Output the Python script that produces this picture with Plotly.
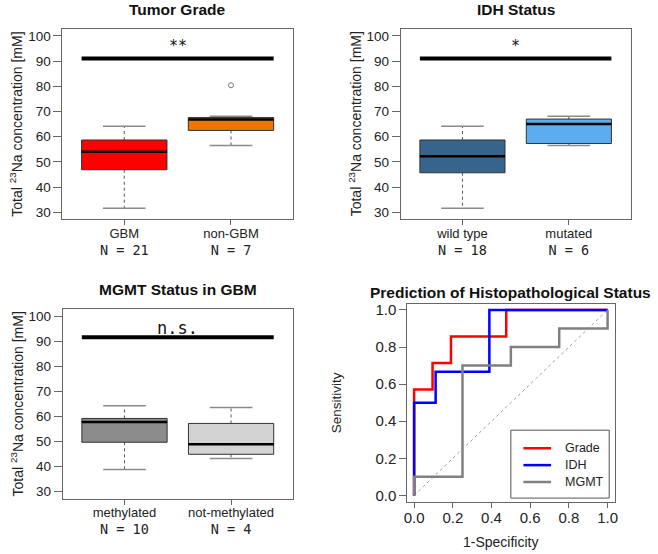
import plotly.graph_objects as go

# ---------------- data ----------------
grade_groups = ["GBM", "non-GBM"]
grade_n = [21, 7]
grade_low = [31.6, 56.5]
grade_q1 = [46.9, 62.5]
grade_med = [54.0, 66.8]
grade_q3 = [58.7, 67.6]
grade_high = [64.2, 68.1]
grade_out_x = [2]
grade_out_y = [80.4]
grade_colors = ["#FF0000", "#EE7600"]

idh_groups = ["wild type", "mutated"]
idh_n = [18, 6]
idh_low = [31.6, 56.5]
idh_q1 = [45.7, 57.3]
idh_med = [52.3, 65.0]
idh_q3 = [58.7, 67.0]
idh_high = [64.2, 68.1]
idh_colors = ["#36648B", "#5CACEE"]

mgmt_groups = ["methylated", "not-methylated"]
mgmt_n = [10, 4]
mgmt_low = [38.8, 43.2]
mgmt_q1 = [49.7, 44.9]
mgmt_med = [57.8, 48.9]
mgmt_q3 = [59.2, 57.2]
mgmt_high = [64.3, 63.6]
mgmt_colors = ["#8C8C8C", "#D3D3D3"]

sig_labels = ["**", "*", "n.s."]
sig_levels = [91.0, 91.0, 91.6]
sig_text_y = [96.0, 96.0, 95.2]

roc_names = ["Grade", "IDH", "MGMT"]
roc_colors = ["#FF0000", "#0000FF", "#808080"]
roc_fpr = [
    [0, 0, 2/21, 2/21, 4/21, 4/21, 10/21, 10/21, 1],
    [0, 0, 2/18, 2/18, 7/18, 7/18, 1],
    [0, 0, 0.25, 0.25, 0.5, 0.5, 0.75, 0.75, 1, 1],
]
roc_tpr = [
    [0, 4/7, 4/7, 5/7, 5/7, 6/7, 6/7, 1, 1],
    [0, 3/6, 3/6, 4/6, 4/6, 1, 1],
    [0, 0.1, 0.1, 0.7, 0.7, 0.8, 0.8, 0.9, 0.9, 1],
]

W, H = 658, 554
SANS = "Liberation Sans, Arial, sans-serif"
MONO = "DejaVu Sans Mono, monospace"

def px_x(p):
    return p / W

def px_y(p):
    return 1 - p / H

fig = go.Figure()

panels = [
    dict(ax="", groups=grade_groups, n=grade_n, low=grade_low, q1=grade_q1, med=grade_med,
         q3=grade_q3, high=grade_high, colors=grade_colors,
         dom_x=(59, 292), dom_y=(27, 219), title="Tumor Grade", ytitle_x=12.7,
         out_x=grade_out_x, out_y=grade_out_y),
    dict(ax="2", groups=idh_groups, n=idh_n, low=idh_low, q1=idh_q1, med=idh_med,
         q3=idh_q3, high=idh_high, colors=idh_colors,
         dom_x=(401, 633.3), dom_y=(27, 219), title="IDH Status", ytitle_x=355,
         out_x=[], out_y=[]),
    dict(ax="3", groups=mgmt_groups, n=mgmt_n, low=mgmt_low, q1=mgmt_q1, med=mgmt_med,
         q3=mgmt_q3, high=mgmt_high, colors=mgmt_colors,
         dom_x=(59.3, 292), dom_y=(309.3, 500.3), title="MGMT Status in GBM", ytitle_x=12.7,
         out_x=[], out_y=[]),
]

annotations = []
shapes = []
layout = {}
BW = 0.4   # half box width
CW = 0.2   # half cap width

for k, p in enumerate(panels):
    xa = "x" + p["ax"]
    ya = "y" + p["ax"]
    for i in range(len(p["groups"])):
        c = i + 1
        fig.add_trace(go.Scatter(x=[c, c, None, c, c], y=[p["q3"][i], p["high"][i], None, p["q1"][i], p["low"][i]],
                                 mode="lines", line=dict(color="#555555", width=1, dash="3px,3px"),
                                 xaxis=xa, yaxis=ya, showlegend=False, hoverinfo="skip"))
        fig.add_trace(go.Scatter(x=[c - CW, c + CW, None, c - CW, c + CW],
                                 y=[p["high"][i], p["high"][i], None, p["low"][i], p["low"][i]],
                                 mode="lines", line=dict(color="#8a8a8a", width=1.5),
                                 xaxis=xa, yaxis=ya, showlegend=False, hoverinfo="skip"))
        fig.add_trace(go.Scatter(x=[c - BW, c + BW, c + BW, c - BW, c - BW],
                                 y=[p["q1"][i], p["q1"][i], p["q3"][i], p["q3"][i], p["q1"][i]],
                                 mode="lines", fill="toself", fillcolor=p["colors"][i],
                                 line=dict(color="#333333", width=1),
                                 xaxis=xa, yaxis=ya, showlegend=False, hoverinfo="skip"))
        fig.add_trace(go.Scatter(x=[c - BW, c + BW], y=[p["med"][i], p["med"][i]],
                                 mode="lines", line=dict(color="#000000", width=2.5),
                                 xaxis=xa, yaxis=ya, showlegend=False, hoverinfo="skip"))
    if p["out_x"]:
        fig.add_trace(go.Scatter(x=p["out_x"], y=p["out_y"], mode="markers",
                                 marker=dict(symbol="circle-open", size=5, color="#777777", line=dict(width=1)),
                                 xaxis=xa, yaxis=ya, showlegend=False, hoverinfo="skip"))
    fig.add_trace(go.Scatter(x=[0.6, 2.4], y=[sig_levels[k], sig_levels[k]], mode="lines",
                             line=dict(color="#000000", width=4),
                             xaxis=xa, yaxis=ya, showlegend=False, hoverinfo="skip"))
    annotations.append(dict(x=1.5, y=sig_text_y[k], xref=xa, yref=ya, text=sig_labels[k],
                            showarrow=False, font=dict(family=MONO, size=17 if k == 2 else 15, color="#111")))

    ticktext = [f"{g}<br><span style='font-family:DejaVu Sans Mono;font-size:13.5px'>N = {n}</span>"
                for g, n in zip(p["groups"], p["n"])]
    layout["xaxis" + p["ax"]] = dict(
        domain=[px_x(p["dom_x"][0]), px_x(p["dom_x"][1])], range=[0.42, 2.58],
        tickvals=[1, 2], ticktext=ticktext, ticks="outside", ticklen=5, tickcolor="#666",
        showline=True, linecolor="#666", linewidth=1, mirror=True, showgrid=False, zeroline=False,
        anchor=ya, tickfont=dict(family=SANS, size=13, color="#222"), ticklabelstandoff=-3,
    )
    layout["yaxis" + p["ax"]] = dict(
        domain=[px_y(p["dom_y"][1]), px_y(p["dom_y"][0])], range=[27.2, 102.8],
        tickvals=[30, 40, 50, 60, 70, 80, 90, 100], ticks="outside", ticklen=8, tickcolor="#666",
        showline=True, linecolor="#666", linewidth=1, mirror=True, showgrid=False, zeroline=False,
        anchor=xa, tickfont=dict(family=SANS, size=13.5, color="#222"),
    )
    cx = (p["dom_x"][0] + p["dom_x"][1]) / 2
    ty = 7.5 if k < 2 else 289.5
    annotations.append(dict(x=px_x(cx), y=px_y(ty), xref="paper", yref="paper", text="<b>" + p["title"] + "</b>",
                            showarrow=False, font=dict(family=SANS, size=15.5, color="#111"),
                            xanchor="center", yanchor="middle"))
    cy = (p["dom_y"][0] + p["dom_y"][1]) / 2
    annotations.append(dict(x=px_x(p["ytitle_x"]), y=px_y(cy), xref="paper", yref="paper",
                            text="Total <sup>23</sup>Na concentration [mM]", textangle=-90,
                            showarrow=False, font=dict(family=SANS, size=14, color="#222"),
                            xanchor="center", yanchor="middle"))

# ---------------- ROC panel ----------------
fig.add_trace(go.Scatter(x=[0, 1], y=[0, 1], mode="lines", line=dict(color="#888888", width=0.8, dash="3px,3px"),
                         xaxis="x4", yaxis="y4", showlegend=False, hoverinfo="skip"))
for name, col, fx, ty in zip(roc_names, roc_colors, roc_fpr, roc_tpr):
    fig.add_trace(go.Scatter(x=fx, y=ty, mode="lines", name=name, line=dict(color=col, width=2.5),
                             xaxis="x4", yaxis="y4", showlegend=False))

# legend box (drawn in paper space)
LEG_L, LEG_R, LEG_T, LEG_B = 512.3, 611.7, 431.3, 499.7
shapes.append(dict(type="rect", xref="paper", yref="paper", x0=px_x(LEG_L), x1=px_x(LEG_R),
                   y0=px_y(LEG_B), y1=px_y(LEG_T), line=dict(color="#555", width=1), fillcolor="white",
                   layer="above"))
leg_rows = [449.5, 466.5, 483.5]
for name, col, ry in zip(roc_names, roc_colors, leg_rows):
    shapes.append(dict(type="line", xref="paper", yref="paper", x0=px_x(525), x1=px_x(553),
                       y0=px_y(ry), y1=px_y(ry), line=dict(color=col, width=2.5), layer="above"))
    annotations.append(dict(x=px_x(565), y=px_y(ry), xref="paper", yref="paper", text=name,
                            showarrow=False, xanchor="left", yanchor="middle",
                            font=dict(family=SANS, size=12.5, color="#222")))

roc_ticks = [0.0, 0.2, 0.4, 0.6, 0.8, 1.0]
roc_ticktext = ["0.0", "0.2", "0.4", "0.6", "0.8", "1.0"]
layout["xaxis4"] = dict(domain=[px_x(407.7), px_x(617.3)], range=[-0.035, 1.037],
                        tickvals=roc_ticks, ticktext=roc_ticktext, ticks="outside", ticklen=5, tickcolor="#666",
                        showline=True, linecolor="#666", linewidth=1, mirror=True, showgrid=False, zeroline=False,
                        anchor="y4", tickfont=dict(family=SANS, size=15, color="#222"), ticklabelstandoff=-3)
layout["yaxis4"] = dict(domain=[px_y(503.7), px_y(303.7)], range=[-0.036, 1.035],
                        tickvals=roc_ticks, ticktext=roc_ticktext, ticks="outside", ticklen=7, tickcolor="#666",
                        showline=True, linecolor="#666", linewidth=1, mirror=True, showgrid=False, zeroline=False,
                        anchor="x4", tickfont=dict(family=SANS, size=15, color="#222"))
annotations.append(dict(x=px_x(511.7), y=px_y(292.7), xref="paper", yref="paper",
                        text="<b>Prediction of Histopathological Status</b>", showarrow=False,
                        font=dict(family=SANS, size=15.5, color="#111"), xanchor="center", yanchor="middle"))
annotations.append(dict(x=px_x(502), y=px_y(543.5), xref="paper", yref="paper", text="1-Specificity",
                        showarrow=False, font=dict(family=SANS, size=14, color="#222"),
                        xanchor="center", yanchor="middle"))
annotations.append(dict(x=px_x(336), y=px_y(403.7), xref="paper", yref="paper", text="Sensitivity",
                        textangle=-90, showarrow=False, font=dict(family=SANS, size=13.5, color="#222"),
                        xanchor="center", yanchor="middle"))

fig.update_layout(
    width=W, height=H, margin=dict(l=0, r=0, t=0, b=0),
    paper_bgcolor="white", plot_bgcolor="white",
    annotations=annotations, shapes=shapes, showlegend=False,
    **layout,
)

fig.write_html("out.html", config={"displayModeBar": False},
               post_script="document.body.style.margin='0';")
